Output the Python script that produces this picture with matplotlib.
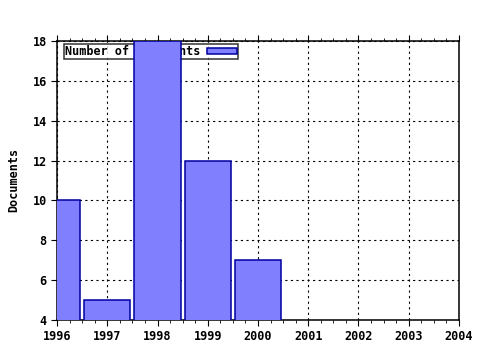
import numpy as np
import matplotlib
matplotlib.use("Agg")
import matplotlib.pyplot as plt
from matplotlib.ticker import MultipleLocator

years = [1996, 1997, 1998, 1999, 2000]
docs = [10, 5, 18, 12, 7]

plt.rcParams['font.family'] = 'DejaVu Sans Mono'
plt.rcParams['font.weight'] = 'bold'

fig = plt.figure(figsize=(4.8, 3.5), dpi=100)
ax = fig.add_axes([0.119, 0.086, 0.837, 0.797])

bars = ax.bar(years, docs, width=0.92, color='#8080ff', edgecolor='#0000a0',
              linewidth=1.1, label='Number of documents', zorder=3)

ax.set_xlim(1996, 2004)
ax.set_ylim(4, 18)
ax.set_xticks(range(1996, 2005))
ax.set_yticks(range(4, 19, 2))
ax.xaxis.set_minor_locator(MultipleLocator(0.25))
ax.tick_params(axis='both', which='major', labelsize=8.5, length=4, direction='out')
ax.tick_params(axis='x', which='minor', length=2, direction='out')
ax.tick_params(axis='x', which='both', top=True)
for s in ax.spines.values():
    s.set_linewidth(1.1)
ax.grid(True, which='major', color='black', linestyle=(0, (2, 3)), linewidth=0.8)
ax.set_axisbelow(True)
ax.set_ylabel('Documents', fontsize=8.5, fontweight='bold', labelpad=9)

leg = ax.legend(loc='upper left', bbox_to_anchor=(0.0174, 0.989), markerfirst=False,
                fontsize=8.5, frameon=True, fancybox=False, borderaxespad=0,
                borderpad=0.1, handlelength=2.6, handleheight=0.5, handletextpad=0.5)
leg.get_frame().set_edgecolor('black')
leg.get_frame().set_linewidth(1.1)
leg.set_zorder(1)

fig.savefig('out.png', dpi=100)
